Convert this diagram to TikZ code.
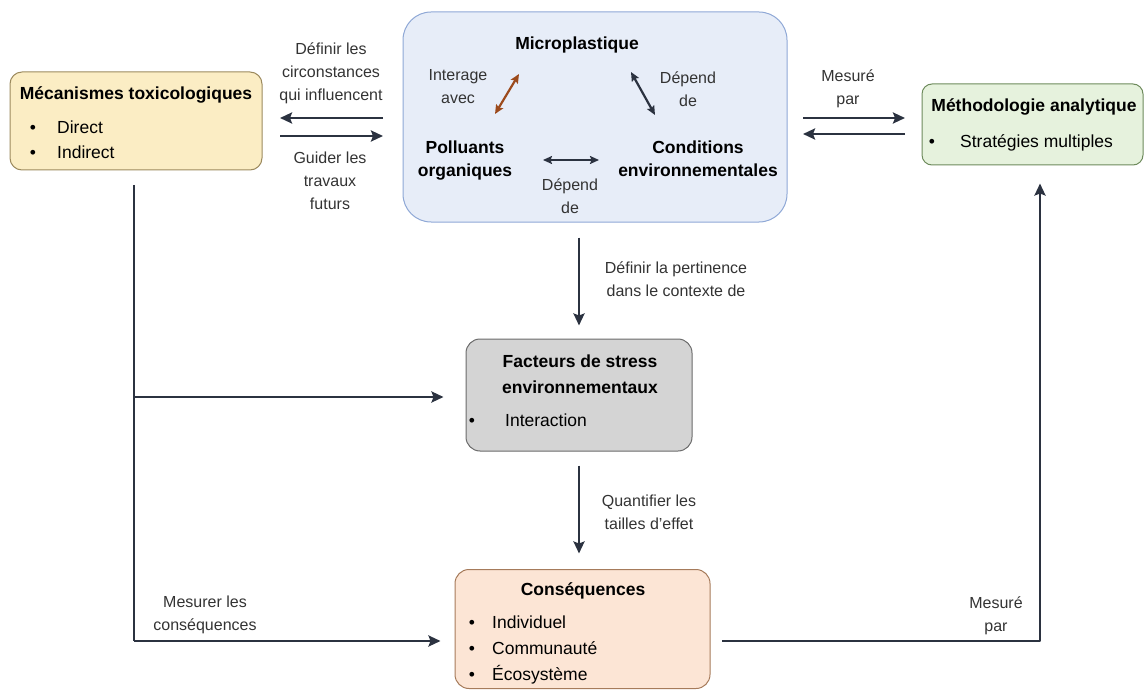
\documentclass[tikz,border=0pt]{standalone}
\usepackage{fontspec}
\setmainfont{Liberation Sans}
\usetikzlibrary{arrows.meta,calc}
\definecolor{mecafill}{HTML}{FBEDC4}
\definecolor{mecadraw}{HTML}{9C8A5E}
\definecolor{microfill}{HTML}{E7EDF8}
\definecolor{microdraw}{HTML}{8FA8D6}
\definecolor{methofill}{HTML}{E6F2DD}
\definecolor{methodraw}{HTML}{6E8B5C}
\definecolor{factfill}{HTML}{D4D4D4}
\definecolor{factdraw}{HTML}{6B6B6B}
\definecolor{consfill}{HTML}{FCE5D5}
\definecolor{consdraw}{HTML}{A67B5B}
\definecolor{arrowdark}{HTML}{2B3240}
\definecolor{arrowbrown}{HTML}{9C4A1C}
\definecolor{labelgray}{HTML}{333333}
\begin{document}
\begin{tikzpicture}[x=1pt, y=-1pt, line join=round, >={Stealth[length=12pt,width=11pt,inset=2pt]},
	box/.style={rectangle, rounded corners=12pt, line width=1pt, inner sep=0pt},
	title/.style={font=\fontsize{17.5}{23}\selectfont\bfseries, align=center, anchor=base},
	item/.style={font=\fontsize{17.5}{26}\selectfont, anchor=base west, inner sep=0pt},
	dot/.style={font=\fontsize{17.5}{26}\selectfont, anchor=base, inner sep=0pt},
	lbl/.style={font=\fontsize{16}{23}\selectfont, text=labelgray, align=center, anchor=base},
	conn/.style={draw=arrowdark, line width=2.6pt},
	inner/.style={line width=2.2pt, >={Stealth[length=9pt,width=8pt,inset=1.5pt]}}]
	\useasboundingbox (0,0) rectangle (1144,690);
	
	% Boîtes
	\node[box, fill=mecafill, draw=mecadraw, minimum width=252pt, minimum height=98pt] (meca) at (136,121) {};
	\node[box, rounded corners=28pt, fill=microfill, draw=microdraw, minimum width=384pt, minimum height=210pt] (micro) at (595,117) {};
	\node[box, rounded corners=10pt, fill=methofill, draw=methodraw, minimum width=221pt, minimum height=81pt] (metho) at (1032.5,124.5) {};
	\node[box, rounded corners=14pt, fill=factfill, draw=factdraw, minimum width=226pt, minimum height=112pt] (fact) at (579,395) {};
	\node[box, rounded corners=14pt, fill=consfill, draw=consdraw, minimum width=255pt, minimum height=119pt] (cons) at (582.5,629) {};
	
	% Textes des boîtes (base = ligne du bas)
	\node[title] (mecaT) at (136,100) {Mécanismes toxicologiques};
	\node[dot] at (33,134) {•}; \node[item] (mecaA) at (57,134) {Direct};
	\node[dot] at (33,159) {•}; \node[item] (mecaB) at (57,159) {Indirect};
	
	\node[title] (microT) at (577,50) {Microplastique};
	\node[title] (poll) at (465,177) {Polluants\\organiques};
	\node[title] (cond) at (698,177) {Conditions\\environnementales};
	
	\node[title] (methoT) at (1034,112) {Méthodologie analytique};
	\node[dot] at (932,148) {•}; \node[item] (methoA) at (960,148) {Stratégies multiples};
	
	\node[title, font=\fontsize{17.5}{26}\selectfont\bfseries] (factT) at (580,393) {Facteurs de stress\\environnementaux};
	\node[dot] at (472,426) {•}; \node[item] (factA) at (505,426) {Interaction};
	
	\node[title] (consT) at (583,595) {Conséquences};
	\node[dot] at (472,628) {•}; \node[item] (consA) at (492,628) {Individuel};
	\node[dot] at (472,654) {•}; \node[item] (consB) at (492,654) {Communauté};
	\node[dot] at (472,680) {•}; \node[item] (consC) at (492,680) {Écosystème};
	
	% Flèches internes au microplastique
	\coordinate (pA) at (495,114); \coordinate (mA) at (519,74);
	\coordinate (mB) at (631,72); \coordinate (cB) at (655,115);
	\coordinate (pC) at (543,160); \coordinate (cC) at (599,160);
	\draw[<->, draw=arrowbrown, inner] (pA) -- (mA);
	\draw[<->, conn, inner] (mB) -- (cB);
	\draw[<->, conn, inner] (pC) -- (cC);
	\node[lbl] at (458,104) {Interage\\avec};
	\node[lbl] at (688,107) {Dépend\\de};
	\node[lbl] at (570,213) {Dépend\\de};
	
	% Mécanismes <-> Microplastique
	\coordinate (mecaR1) at (280,118); \coordinate (microL1) at (383,118);
	\coordinate (mecaR2) at (280,136); \coordinate (microL2) at (383,136);
	\draw[->, conn] (microL1) -- (mecaR1);
	\draw[->, conn] (mecaR2) -- (microL2);
	\node[lbl] at (331,101) {Définir les\\circonstances\\qui influencent};
	\node[lbl] at (330,209) {Guider les\\travaux\\futurs};
	
	% Microplastique <-> Méthodologie
	\coordinate (microR1) at (803,118); \coordinate (methoL1) at (905,118);
	\coordinate (microR2) at (803,134); \coordinate (methoL2) at (905,134);
	\draw[->, conn] (microR1) -- (methoL1);
	\draw[->, conn] (methoL2) -- (microR2);
	\node[lbl] at (848,105) {Mesuré\\par};
	
	% Flèches verticales du centre
	\draw[->, conn] ($(fact.north|-micro.south)+(0,15)$) -- ($(fact.north)+(0,-13)$);
	\node[lbl] at (676,296) {Définir la pertinence\\dans le contexte de};
	\draw[->, conn] ($(fact.south)+(0,14)$) -- ($(fact.south)+(0,102)$);
	\node[lbl] at (649,529) {Quantifier les\\tailles d'effet};
	
	% Mécanismes -> Facteurs / Conséquences
	\coordinate (mecaD) at (134,185);
	\coordinate (branch) at (134,397);
	\coordinate (corner) at (134,641);
	\draw[conn] (mecaD) -- (corner);
	\draw[->, conn] (branch) -- ($(fact.west|-branch)+(-22,0)$);
	\draw[->, conn] (corner) -- ($(cons.west|-corner)+(-14,0)$);
	\node[lbl] at (205,630) {Mesurer les\\conséquences};
	
	% Conséquences -> Méthodologie
	\coordinate (consR) at (722,641);
	\coordinate (turn) at (1040,641);
	\draw[->, conn] (consR) -- (turn) -- ($(turn|-metho.south)+(0,18)$);
	\node[lbl] at (996,631) {Mesuré\\par};
\end{tikzpicture}
\end{document}
